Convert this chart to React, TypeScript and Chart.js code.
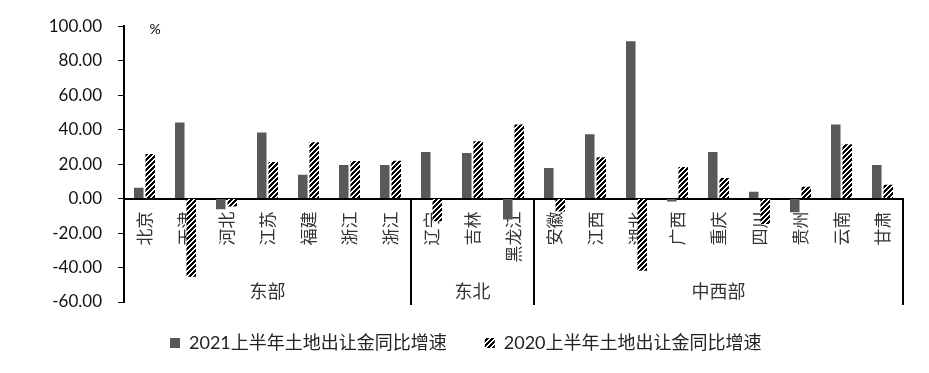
import React, { useEffect, useRef } from 'react';
import { Chart, registerables } from 'chart.js';

Chart.register(...registerables);

// ---- data ----
const categories = ['北京', '天津', '河北', '江苏', '福建', '浙江', '浙江', '辽宁', '吉林', '黑龙江', '安徽', '江西', '湖北', '广西', '重庆', '四川', '贵州', '云南', '甘肃'];
const growth2021 = [6.3, 44.2, -6.2, 38.4, 13.8, 19.5, 19.5, 27.0, 26.4, -12.2, 17.8, 37.3, 91.2, -1.7, 27.0, 4.0, -8.0, 43.0, 19.5];
const growth2020 = [25.8, -45.3, -4.6, 21.2, 32.7, 21.8, 22.0, -13.2, 33.3, 43.0, -7.5, 24.0, -41.9, 18.3, 12.0, -14.7, 6.9, 31.5, 8.0];
const seriesNames = ['2021上半年土地出让金同比增速', '2020上半年土地出让金同比增速'];
const groupNames = ['东部', '东北', '中西部'];
const groupStarts = [0, 7, 10];
const groupEnds = [6, 9, 18];
const yMin = -60;
const yMax = 100;
const yStep = 20;
const unitLabel = '%';

const CJK = '"Noto Sans CJK SC", sans-serif';
const NUM = 'Lato, "Noto Sans CJK SC", sans-serif';

function makeHatch(ctx: CanvasRenderingContext2D): CanvasPattern | string {
  const n = 5;
  const c = document.createElement('canvas');
  c.width = n;
  c.height = n;
  const g = c.getContext('2d');
  if (!g) return '#000';
  g.fillStyle = '#ffffff';
  g.fillRect(0, 0, n, n);
  g.fillStyle = '#000000';
  for (let r = 0; r < n; r++) {
    for (let k = 0; k < 3; k++) {
      g.fillRect((n - 1 - r + k) % n, r, 1, 1);
    }
  }
  return ctx.createPattern(c, 'repeat') || '#000';
}

export default function App() {
  const ref = useRef<HTMLCanvasElement>(null);

  useEffect(() => {
    document.body.style.margin = '0';
    const canvas = ref.current;
    if (!canvas) return;
    const ctx = canvas.getContext('2d');
    if (!ctx) return;
    const hatch = makeHatch(ctx);

    const legendFontSize = 18;
    const legendPlace = {
      id: 'legendPlace',
      afterLayout(chart: any) {
        const lg = chart.legend;
        if (!lg) return;
        const pad = lg.options.labels.padding;
        const dx = 170 - (lg.left + pad);
        lg.left += dx;
        lg.right += dx;
        const dy = 343 - (lg.top + pad + legendFontSize / 2);
        lg.top += dy;
        lg.bottom += dy;
      },
    };

    const decorations = {
      id: 'decorations',
      afterDraw(chart: any) {
        const { ctx: c, chartArea, scales } = chart;
        const xs = scales.x;
        const ys = scales.y;
        const y0 = ys.getPixelForValue(0);
        c.save();
        c.strokeStyle = '#000';
        c.lineWidth = 2;
        groupEnds.forEach((end) => {
          const x = Math.round(xs.getPixelForValue(end + 0.5));
          c.beginPath();
          c.moveTo(x, y0);
          c.lineTo(x, chartArea.bottom + 3);
          c.stroke();
        });
        c.fillStyle = '#333';
        c.font = `18px ${CJK}`;
        c.textAlign = 'center';
        c.textBaseline = 'middle';
        groupNames.forEach((name, i) => {
          const x = xs.getPixelForValue((groupStarts[i] + groupEnds[i]) / 2);
          c.fillText(name, x, chartArea.bottom - 11);
        });
        c.font = `14px ${NUM}`;
        c.fillStyle = '#000';
        c.fillText(unitLabel, chartArea.left + 31, chartArea.top + 3);
        c.restore();
      },
    };

    const chart = new Chart(canvas, {
      type: 'bar',
      data: {
        labels: categories,
        datasets: [
          {
            label: seriesNames[0],
            data: growth2021,
            backgroundColor: '#595959',
            borderWidth: 0,
            categoryPercentage: 0.56,
            barPercentage: 0.83,
          },
          {
            label: seriesNames[1],
            data: growth2020,
            backgroundColor: hatch as any,
            borderWidth: 0,
            categoryPercentage: 0.56,
            barPercentage: 0.83,
          },
        ],
      },
      options: {
        responsive: false,
        animation: false,
        devicePixelRatio: 1,
        events: [],
        layout: { padding: { left: 0, right: 26, top: 23, bottom: 5 } },
        plugins: {
          tooltip: { enabled: false },
          legend: {
            position: 'bottom',
            align: 'start',
            labels: {
              boxWidth: 10,
              boxHeight: 10,
              padding: 38,
              color: '#222',
              font: { size: legendFontSize, family: NUM },
            },
          },
        },
        scales: {
          x: {
            position: { y: 0 } as any,
            grid: { display: true, drawOnChartArea: false, drawTicks: false },
            border: { display: true, color: '#000', width: 2 },
            ticks: {
              autoSkip: false,
              minRotation: 90,
              maxRotation: 90,
              padding: 13,
              color: '#333',
              font: { size: 17, family: CJK },
            },
          },
          y: {
            min: yMin,
            max: yMax,
            ticks: {
              stepSize: yStep,
              padding: 16,
              color: '#111',
              font: { size: 17, family: NUM },
              callback: (v: any) => Number(v).toFixed(2),
            },
            grid: { display: true, drawOnChartArea: false, drawTicks: true, tickLength: 6, color: '#000', lineWidth: 1 },
            border: { display: true, color: '#000', width: 2 },
            afterFit: (s: any) => {
              s.width = 124;
            },
          },
        },
      },
      plugins: [legendPlace, decorations],
    });
    return () => chart.destroy();
  }, []);

  return <canvas ref={ref} width={929} height={373} style={{ display: 'block' }} />;
}
